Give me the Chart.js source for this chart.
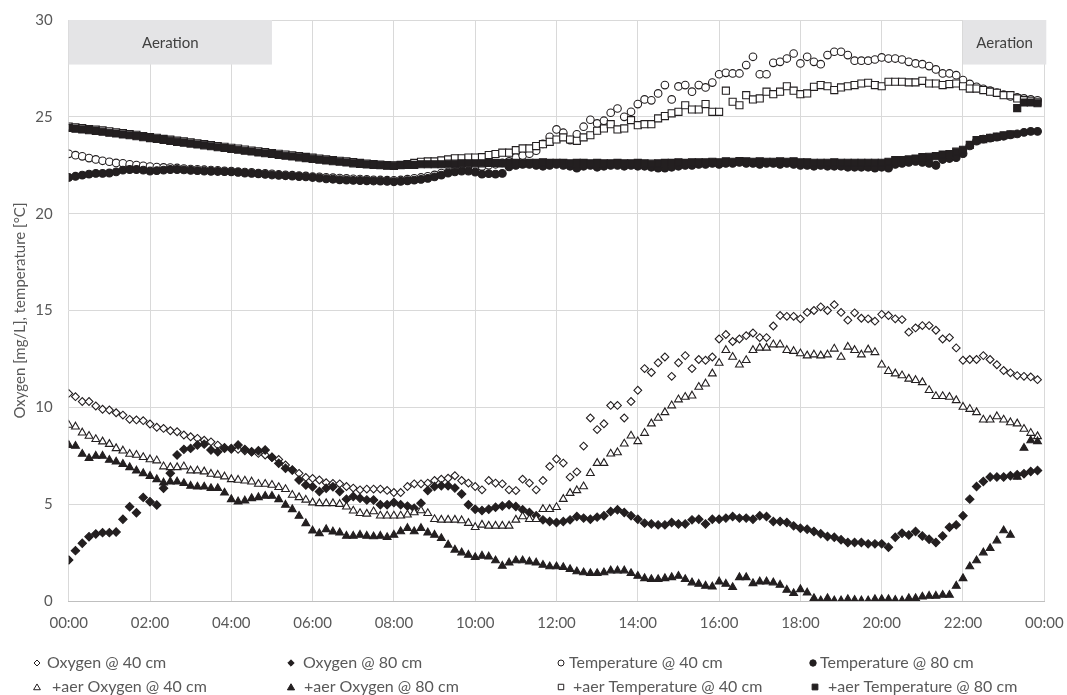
<!DOCTYPE html>
<html>
<head>
<meta charset="utf-8">
<script src="https://cdn.jsdelivr.net/npm/chart.js@4.4.1/dist/chart.umd.min.js"></script>
<style>
  html, body { margin: 0; padding: 0; background: #fff; }
  #wrap { width: 1067px; height: 695px; }
</style>
</head>
<body>
<div id="wrap"><canvas id="grafico" width="1067" height="695"></canvas></div>
<script>
// --- dados (um ponto a cada 10 min, 00:00 .. 23:50) ---
const tickLabels = ['00:00', '02:00', '04:00', '06:00', '08:00', '10:00', '12:00',
  '14:00', '16:00', '18:00', '20:00', '22:00', '00:00'];

const oxygen40 = [
  10.72, 10.55, 10.3, 10.3, 10.07, 9.9, 9.86, 9.72, 9.6, 9.38, 9.35, 9.31,
  9.14, 8.97, 8.91, 8.79, 8.74, 8.57, 8.48, 8.4, 8.3, 8.22, 8.05, 7.93,
  7.83, 7.83, 7.76, 7.7, 7.62, 7.54, 7.42, 7.31, 7.02, 6.76, 6.59, 6.38,
  6.33, 6.25, 6.11, 6.07, 6.05, 5.91, 5.83, 5.74, 5.78, 5.78, 5.78, 5.71,
  5.6, 5.6, 5.91, 6.05, 6.05, 6.09, 6.22, 6.29, 6.34, 6.47, 6.22, 6.09,
  5.91, 5.74, 6.22, 6.09, 6.05, 5.74, 5.7, 6.29, 6.09, 5.74, 6.22, 6.95,
  7.33, 7.12, 6.4, 6.67, 8.0, 9.45, 8.85, 9.15, 10.1, 10.1, 9.45, 10.3,
  10.88, 12.0, 11.8, 12.3, 12.6, 11.6, 12.3, 12.67, 12.0, 12.47, 12.43, 12.6,
  13.53, 13.76, 13.4, 13.53, 13.7, 13.84, 13.6, 13.6, 14.2, 14.74, 14.7, 14.7,
  14.57, 14.9, 15.0, 15.19, 15.0, 15.3, 14.9, 14.5, 14.88, 14.6, 14.57, 14.45,
  14.8, 14.74, 14.57, 14.53, 13.88, 14.1, 14.22, 14.22, 13.98, 13.53, 13.6, 13.07,
  12.43, 12.47, 12.47, 12.67, 12.47, 12.2, 11.9, 11.78, 11.64, 11.6, 11.57, 11.43
];

const oxygen80 = [
  2.12, 2.6, 2.98, 3.32, 3.46, 3.53, 3.53, 3.56, 4.22, 4.87, 4.56, 5.35,
  5.13, 4.96, 5.82, 6.6, 7.54, 7.83, 7.88, 8.05, 8.1, 7.8, 7.71, 7.88,
  7.88, 8.05, 7.83, 7.71, 7.76, 7.8, 7.42, 7.11, 6.85, 6.76, 6.25, 5.99,
  5.9, 5.65, 5.82, 5.9, 5.65, 5.26, 5.4, 5.31, 5.22, 5.22, 4.97, 4.97,
  5.09, 4.97, 4.9, 4.79, 5.05, 5.71, 5.91, 5.95, 5.95, 5.83, 5.53, 4.97,
  4.74, 4.67, 4.74, 4.84, 4.91, 4.97, 4.88, 4.71, 4.57, 4.4, 4.19, 4.1,
  4.05, 4.1, 4.19, 4.36, 4.28, 4.22, 4.33, 4.4, 4.62, 4.71, 4.57, 4.4,
  4.22, 4.02, 3.98, 3.93, 3.93, 4.05, 3.98, 3.98, 4.19, 4.22, 3.98, 4.22,
  4.22, 4.28, 4.36, 4.28, 4.28, 4.22, 4.4, 4.36, 4.1, 4.1, 4.05, 3.88,
  3.76, 3.71, 3.59, 3.47, 3.33, 3.29, 3.16, 3.02, 3.02, 3.02, 2.95, 2.95,
  2.95, 2.78, 3.29, 3.5, 3.41, 3.59, 3.36, 3.19, 3.02, 3.36, 3.81, 3.93,
  4.4, 5.26, 5.91, 6.17, 6.4, 6.4, 6.4, 6.47, 6.52, 6.57, 6.69, 6.74
];

const temp40 = [
  23.09, 23.02, 22.96, 22.87, 22.8, 22.73, 22.68, 22.62, 22.6, 22.55, 22.51, 22.47,
  22.43, 22.41, 22.39, 22.38, 22.36, 22.33, 22.3, 22.29, 22.27, 22.25, 22.24, 22.21,
  22.2, 22.17, 22.15, 22.13, 22.1, 22.08, 22.06, 22.03, 22.01, 21.99, 21.97, 21.95,
  21.92, 21.9, 21.88, 21.86, 21.84, 21.82, 21.8, 21.79, 21.77, 21.75, 21.74, 21.73,
  21.72, 21.74, 21.78, 21.83, 21.87, 21.93, 22.0, 22.1, 22.16, 22.22, 22.28, 22.33,
  22.38, 22.43, 22.5, 22.55, 22.62, 22.7, 22.9, 23.0, 23.1, 23.25, 23.6, 23.97,
  24.35, 24.18, 23.8, 24.1, 24.49, 24.85, 24.66, 24.8, 25.21, 25.43, 25.0, 25.26,
  25.66, 25.9, 25.85, 26.21, 26.64, 25.9, 26.57, 26.64, 26.3, 26.64, 26.52, 26.77,
  27.2, 27.27, 27.24, 27.24, 27.67, 28.1, 27.2, 27.2, 27.79, 27.84, 28.01, 28.27,
  27.76, 28.1, 27.84, 27.72, 28.19, 28.36, 28.36, 28.19, 27.9, 27.9, 27.9, 27.96,
  28.07, 28.01, 28.01, 27.96, 27.84, 27.76, 27.72, 27.62, 27.45, 27.24, 27.24, 27.15,
  26.9, 26.7, 26.55, 26.45, 26.35, 26.25, 26.15, 26.05, 26.0, 25.95, 25.9, 25.85
];

const temp80 = [
  21.87, 21.93, 21.99, 22.04, 22.08, 22.08, 22.1, 22.16, 22.25, 22.28, 22.28, 22.25,
  22.2, 22.22, 22.25, 22.28, 22.28, 22.26, 22.24, 22.22, 22.2, 22.19, 22.18, 22.17,
  22.16, 22.13, 22.1, 22.08, 22.06, 22.03, 22.0, 21.98, 21.96, 21.94, 21.92, 21.9,
  21.87, 21.84, 21.8, 21.78, 21.75, 21.73, 21.72, 21.71, 21.7, 21.69, 21.68, 21.67,
  21.65, 21.67, 21.7, 21.73, 21.77, 21.82, 21.9, 21.99, 22.1, 22.16, 22.2, 22.2,
  22.15, 22.04, 22.07, 22.04, 22.08, 22.42, 22.5, 22.55, 22.55, 22.5, 22.45, 22.5,
  22.55, 22.5, 22.45, 22.35, 22.45, 22.5, 22.4, 22.45, 22.5, 22.5, 22.45, 22.5,
  22.45, 22.45, 22.4, 22.35, 22.35, 22.4, 22.45, 22.5, 22.5, 22.55, 22.55, 22.6,
  22.55, 22.6, 22.6, 22.65, 22.6, 22.6, 22.55, 22.6, 22.6, 22.55, 22.6, 22.55,
  22.5, 22.5, 22.45, 22.5, 22.45, 22.45, 22.45, 22.4, 22.4, 22.4, 22.4, 22.35,
  22.4, 22.35, 22.55, 22.6, 22.65, 22.7, 22.65, 22.6, 22.5, 22.8, 22.85, 22.9,
  23.1, 23.5, 23.75, 23.85, 23.9, 23.95, 24.0, 24.07, 24.12, 24.2, 24.25, 24.25
];

const aerOxygen40 = [
  9.09, 9.0, 8.69, 8.52, 8.35, 8.23, 8.1, 7.88, 7.76, 7.59, 7.54, 7.42,
  7.31, 7.25, 6.94, 6.9, 6.9, 6.94, 6.73, 6.73, 6.68, 6.56, 6.51, 6.42,
  6.28, 6.25, 6.21, 6.16, 6.04, 6.04, 5.99, 5.87, 5.77, 5.47, 5.35, 5.22,
  5.08, 5.04, 5.04, 5.04, 5.0, 4.87, 4.66, 4.53, 4.5, 4.62, 4.4, 4.4,
  4.4, 4.4, 4.45, 4.57, 4.67, 4.53, 4.22, 4.19, 4.19, 4.19, 4.16, 4.02,
  3.81, 3.93, 3.88, 3.88, 3.88, 3.88, 4.19, 4.36, 4.22, 4.22, 4.74, 4.74,
  4.84, 5.26, 5.57, 5.71, 5.91, 6.6, 7.12, 7.12, 7.6, 7.67, 8.12, 8.53,
  8.24, 8.67, 9.16, 9.45, 9.74, 10.09, 10.4, 10.53, 10.6, 11.05, 11.22, 11.74,
  12.29, 12.95, 12.6, 12.2, 12.43, 12.95, 13.07, 13.07, 13.24, 13.24, 12.95, 12.9,
  12.78, 12.67, 12.72, 12.67, 12.72, 13.02, 12.6, 13.12, 12.95, 12.72, 12.98, 12.84,
  12.2, 11.86, 11.74, 11.64, 11.47, 11.4, 11.29, 10.88, 10.57, 10.57, 10.53, 10.36,
  10.02, 9.91, 9.74, 9.36, 9.36, 9.53, 9.36, 9.22, 9.16, 8.88, 8.67, 8.5
];

const aerOxygen80 = [
  8.05, 8.0, 7.59, 7.37, 7.49, 7.49, 7.28, 7.19, 7.07, 6.9, 6.73, 6.59,
  6.45, 6.28, 6.11, 6.16, 6.16, 6.08, 5.94, 5.9, 5.9, 5.82, 5.82, 5.59,
  5.25, 5.13, 5.18, 5.3, 5.35, 5.42, 5.42, 5.25, 4.96, 4.73, 4.39, 4.01,
  3.63, 3.49, 3.7, 3.58, 3.53, 3.36, 3.36, 3.41, 3.36, 3.33, 3.36, 3.29,
  3.41, 3.59, 3.76, 3.59, 3.76, 3.53, 3.41, 3.24, 2.9, 2.64, 2.5, 2.38,
  2.26, 2.33, 2.29, 2.09, 1.81, 1.98, 2.09, 2.09, 2.03, 1.98, 1.86, 1.78,
  1.78, 1.74, 1.64, 1.52, 1.47, 1.43, 1.43, 1.47, 1.57, 1.57, 1.57, 1.43,
  1.29, 1.17, 1.12, 1.12, 1.17, 1.22, 1.29, 1.12, 0.95, 0.88, 0.78, 0.74,
  1.0, 0.88, 0.71, 1.22, 1.22, 0.91, 1.0, 1.0, 0.95, 0.83, 0.57, 0.4,
  0.6, 0.43, 0.14, 0.02, 0.14, 0.02, 0.02, 0.09, 0.05, 0.02, 0.02, 0.09,
  0.09, 0.09, 0.05, 0.02, 0.14, 0.14, 0.22, 0.26, 0.26, 0.31, 0.31, 0.78,
  1.17, 1.78, 2.09, 2.5, 2.72, 3.12, 3.64, 3.41, 6.4, 7.9, 8.29, 8.24
];

const aerTemp40 = [
  24.5, 24.46, 24.42, 24.37, 24.34, 24.3, 24.25, 24.2, 24.16, 24.11, 24.07, 24.01,
  23.96, 23.92, 23.86, 23.82, 23.77, 23.73, 23.68, 23.63, 23.59, 23.54, 23.49, 23.45,
  23.4, 23.36, 23.31, 23.26, 23.22, 23.18, 23.13, 23.09, 23.05, 23.01, 22.97, 22.93,
  22.89, 22.85, 22.81, 22.77, 22.73, 22.7, 22.66, 22.62, 22.58, 22.56, 22.53, 22.51,
  22.5, 22.52, 22.56, 22.62, 22.68, 22.7, 22.7, 22.75, 22.8, 22.86, 22.86, 22.9,
  22.9, 22.92, 23.03, 23.08, 23.15, 23.15, 23.28, 23.37, 23.37, 23.49, 23.59, 23.71,
  23.83, 23.94, 23.83, 23.76, 23.94, 24.05, 24.28, 24.4, 24.62, 24.35, 24.4, 24.83,
  24.57, 24.62, 24.62, 24.92, 25.04, 25.18, 25.26, 25.6, 25.38, 25.38, 25.66, 25.26,
  25.26, 26.35, 25.78, 25.6, 26.12, 25.9, 25.95, 26.3, 26.17, 26.3, 26.58, 26.35,
  26.17, 26.21, 26.55, 26.64, 26.58, 26.38, 26.52, 26.58, 26.64, 26.72, 26.76, 26.64,
  26.58, 26.81, 26.81, 26.81, 26.78, 26.78, 26.86, 26.72, 26.72, 26.64, 26.69, 26.72,
  26.58, 26.46, 26.46, 26.38, 26.3, 26.24, 26.12, 26.12, 25.95, 25.86, 25.83, 25.78
];

const aerTemp80 = [
  24.43, 24.39, 24.35, 24.31, 24.27, 24.23, 24.18, 24.14, 24.09, 24.05, 24.0, 23.95,
  23.9, 23.86, 23.81, 23.76, 23.71, 23.67, 23.62, 23.57, 23.53, 23.48, 23.43, 23.39,
  23.34, 23.3, 23.25, 23.21, 23.16, 23.12, 23.08, 23.03, 22.99, 22.95, 22.91, 22.87,
  22.83, 22.79, 22.75, 22.71, 22.68, 22.64, 22.6, 22.57, 22.54, 22.52, 22.5, 22.48,
  22.47, 22.5, 22.52, 22.52, 22.55, 22.55, 22.55, 22.55, 22.58, 22.58, 22.6, 22.6,
  22.6, 22.6, 22.62, 22.62, 22.6, 22.62, 22.62, 22.6, 22.62, 22.62, 22.65, 22.62,
  22.62, 22.62, 22.6, 22.62, 22.62, 22.6, 22.62, 22.6, 22.6, 22.62, 22.6, 22.6,
  22.62, 22.6, 22.58, 22.6, 22.62, 22.62, 22.65, 22.62, 22.65, 22.65, 22.65, 22.68,
  22.65, 22.7, 22.68, 22.72, 22.7, 22.68, 22.7, 22.68, 22.68, 22.7, 22.68, 22.7,
  22.65, 22.65, 22.63, 22.63, 22.63, 22.65, 22.63, 22.63, 22.63, 22.63, 22.63, 22.63,
  22.63, 22.68, 22.77, 22.77, 22.8, 22.85, 22.92, 22.94, 22.97, 23.05, 23.08, 23.2,
  23.3, 23.55, 23.8, 23.85, 23.92, 23.98, 24.05, 24.1, 25.45, 25.74, 25.74, 25.7
];

// faixas de aeração (minutos do dia)
const aeracaoInicio = [0, 1320];
const aeracaoFim = [300, 1440];

const PRETO = '#231f20';
const CINZA_TEXTO = '#595959';
const FONTE = 'Lato, "Open Sans", sans-serif';

// --- monta os datasets ---
function serie(valores) {
  return valores.map((v, i) => ({ x: i * 10, y: v }));
}

const series = [
  { label: 'Oxygen @ 40 cm', dados: oxygen40, estilo: 'rectRot', raio: 3.9, cheio: false },
  { label: 'Oxygen @ 80 cm', dados: oxygen80, estilo: 'rectRot', raio: 4.2, cheio: true },
  { label: 'Temperature @ 40 cm', dados: temp40, estilo: 'circle', raio: 3.8, cheio: false },
  { label: 'Temperature @ 80 cm', dados: temp80, estilo: 'circle', raio: 3.9, cheio: true },
  { label: '+aer Oxygen @ 40 cm', dados: aerOxygen40, estilo: 'triangle', raio: 4.5, cheio: false },
  { label: '+aer Oxygen @ 80 cm', dados: aerOxygen80, estilo: 'triangle', raio: 4.5, cheio: true },
  { label: '+aer Temperature @ 40 cm', dados: aerTemp40, estilo: 'rect', raio: 5, cheio: false },
  { label: '+aer Temperature @ 80 cm', dados: aerTemp80, estilo: 'rect', raio: 5, cheio: true }
];

const datasets = series.map((s, idx) => ({
  label: s.label,
  data: serie(s.dados),
  pointStyle: s.estilo,
  pointRadius: s.raio,
  pointBackgroundColor: s.cheio ? PRETO : '#ffffff',
  pointBorderColor: PRETO,
  pointBorderWidth: 1.1,
  showLine: false,
  order: series.length - idx // séries posteriores por cima, como no Excel
}));

// --- plugin: caixas "Aeration" ---
const caixasAeracao = {
  id: 'caixasAeracao',
  beforeDatasetsDraw(chart) {
    const { ctx, scales: { x, y } } = chart;
    ctx.save();
    for (let k = 0; k < aeracaoInicio.length; k++) {
      const x0 = x.getPixelForValue(aeracaoInicio[k]);
      const x1 = x.getPixelForValue(aeracaoFim[k]) + (k === 1 ? 2 : 0);
      const y0 = y.getPixelForValue(30);
      const y1 = y.getPixelForValue(27.7);
      ctx.fillStyle = '#e4e4e6';
      ctx.fillRect(x0, y0, x1 - x0, y1 - y0);
      ctx.fillStyle = '#404040';
      ctx.font = '15px ' + FONTE;
      ctx.textAlign = 'center';
      ctx.textBaseline = 'middle';
      ctx.fillText('Aeration', (x0 + x1) / 2, (y0 + y1) / 2 + 1);
    }
    ctx.restore();
  }
};

// --- plugin: legenda em grade 4x2 ---
function desenharMarcador(ctx, estilo, cx, cy, r, cheio) {
  ctx.beginPath();
  if (estilo === 'rectRot') {
    ctx.moveTo(cx - r, cy); ctx.lineTo(cx, cy - r); ctx.lineTo(cx + r, cy); ctx.lineTo(cx, cy + r);
  } else if (estilo === 'circle') {
    ctx.arc(cx, cy, r, 0, Math.PI * 2);
  } else if (estilo === 'triangle') {
    ctx.moveTo(cx - r, cy + r * 0.8); ctx.lineTo(cx, cy - r * 0.9); ctx.lineTo(cx + r, cy + r * 0.8);
  } else {
    ctx.rect(cx - r, cy - r, 2 * r, 2 * r);
  }
  ctx.closePath();
  ctx.fillStyle = cheio ? PRETO : '#ffffff';
  ctx.fill();
  ctx.lineWidth = 1;
  ctx.strokeStyle = PRETO;
  ctx.stroke();
}

const posLegenda = [
  { mx: 37, tx: 47, y: 663 }, { mx: 291, tx: 303, y: 663 },
  { mx: 561, tx: 569, y: 663 }, { mx: 813, tx: 820, y: 663 },
  { mx: 37, tx: 52, y: 687 }, { mx: 291, tx: 304, y: 687 },
  { mx: 561, tx: 573, y: 687 }, { mx: 815, tx: 828, y: 687 }
];
const raioLegenda = [3, 3.2, 3, 3.2, 3.4, 3.6, 3.4, 3.6];

const legendaGrade = {
  id: 'legendaGrade',
  afterDraw(chart) {
    const ctx = chart.ctx;
    ctx.save();
    series.forEach((s, i) => {
      const p = posLegenda[i];
      const r = raioLegenda[i];
      desenharMarcador(ctx, s.estilo, p.mx, p.y, s.estilo === 'rect' ? r * 0.8 : r, s.cheio);
      ctx.fillStyle = CINZA_TEXTO;
      ctx.font = '16px ' + FONTE;
      ctx.textAlign = 'left';
      ctx.textBaseline = 'middle';
      ctx.fillText(s.label, p.tx, p.y);
    });
    ctx.restore();
  }
};

new Chart(document.getElementById('grafico'), {
  type: 'scatter',
  data: { datasets },
  plugins: [caixasAeracao, legendaGrade],
  options: {
    responsive: false,
    animation: false,
    devicePixelRatio: 1,
    layout: { padding: { left: 0, top: 20, right: 22.7, bottom: 54 } },
    plugins: { legend: { display: false }, tooltip: { enabled: false } },
    scales: {
      x: {
        type: 'linear',
        min: 0,
        max: 1440,
        afterFit: (scale) => {
          scale.height = 40;
          scale.paddingLeft = 0;
          scale.paddingRight = 0;
        },
        afterBuildTicks: (scale) => {
          scale.ticks = tickLabels.map((_, i) => ({ value: i * 120 }));
        },
        ticks: {
          callback: (value) => tickLabels[Math.round(value / 120)],
          color: CINZA_TEXTO,
          font: { family: FONTE, size: 15 },
          padding: 13,
          maxRotation: 0,
          autoSkip: false
        },
        grid: { color: '#d9d9d9', drawTicks: false },
        border: { color: '#bfbfbf' }
      },
      y: {
        min: 0,
        max: 30,
        afterFit: (scale) => {
          scale.width = 68.7;
          scale.paddingTop = 0;
          scale.paddingBottom = 0;
        },
        ticks: {
          stepSize: 5,
          color: CINZA_TEXTO,
          font: { family: FONTE, size: 15 },
          padding: 16
        },
        grid: { color: '#d9d9d9', drawTicks: false },
        border: { display: false },
        title: {
          display: true,
          text: 'Oxygen [mg/L], temperature [°C]',
          color: CINZA_TEXTO,
          font: { family: FONTE, size: 15 },
          padding: { top: 11, bottom: 0 }
        }
      }
    }
  }
});
</script>
</body>
</html>
